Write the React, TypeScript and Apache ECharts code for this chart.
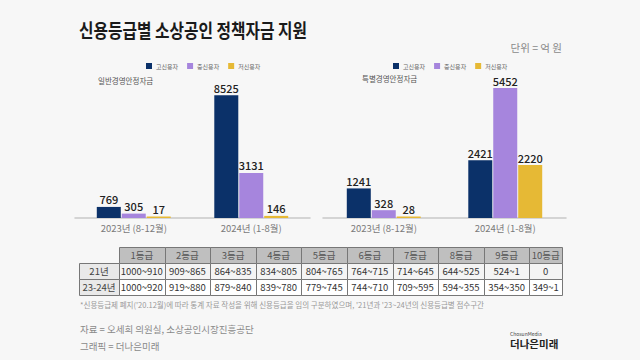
import React, { useEffect, useRef } from "react";
import * as echarts from "echarts";

const categories = ["2023년 (8-12월)", "2024년 (1-8월)"];
const seriesNames = ["고신용자", "중신용자", "저신용자"];
const generalHigh = [769, 8525];
const generalMid = [305, 3131];
const generalLow = [17, 146];
const specialHigh = [1241, 2421];
const specialMid = [328, 5452];
const specialLow = [28, 2220];

const gradeLabels = ["1등급", "2등급", "3등급", "4등급", "5등급", "6등급", "7등급", "8등급", "9등급", "10등급"];
const rowLabels = ["21년", "23-24년"];
const row21 = ["1000~910", "909~865", "864~835", "834~805", "804~765", "764~715", "714~645", "644~525", "524~1", "0"];
const row2324 = ["1000~920", "919~880", "879~840", "839~780", "779~745", "744~710", "709~595", "594~355", "354~350", "349~1"];

const COLORS = ["#0b3169", "#a685dd", "#e6b935"];
const FONT = "'Noto Sans CJK KR', 'Noto Sans', sans-serif";

export default function App() {
  const ref = useRef<HTMLDivElement>(null);
  useEffect(() => {
    document.body.style.margin = "0";
    const chart = echarts.init(ref.current!, null, { renderer: "svg" });

    const mkSeries = (name: string, data: number[], idx: number, ci: number) => ({
      type: "bar",
      name,
      data,
      xAxisIndex: idx,
      yAxisIndex: idx,
      barWidth: 24,
      barGap: "4%",
      barMinHeight: 1.5,
      itemStyle: { color: COLORS[ci] },
      label: {
        show: true,
        position: "top",
        distance: 2,
        fontSize: 11,
        fontWeight: 500,
        color: "#222",
        fontFamily: FONT,
      },
    });

    const colX: number[] = [79, 119];
    for (let i = 1; i <= 9; i++) colX.push(119 + i * 45.6);
    colX.push(562);
    const rowY = [247, 263, 279, 295];
    const cells: any[] = [];
    const cellText = (x0: number, x1: number, y0: number, y1: number, t: string, color: string) => ({
      type: "text",
      x: (x0 + x1) / 2,
      y: (y0 + y1) / 2,
      style: { text: t, fill: color, fontSize: 9.5, fontFamily: FONT, align: "center", verticalAlign: "middle" },
    });
    const cellRect = (x0: number, x1: number, y0: number, y1: number, fill: string) => ({
      type: "rect",
      shape: { x: Math.round(x0) + 0.5, y: y0 + 0.5, width: Math.round(x1) - Math.round(x0), height: y1 - y0 },
      style: { fill, stroke: "#777", lineWidth: 1 },
    });
    gradeLabels.forEach((g, i) => {
      cells.push(cellRect(colX[i + 1], colX[i + 2], rowY[0], rowY[1], "#bfbfbf"));
      cells.push(cellText(colX[i + 1], colX[i + 2], rowY[0], rowY[1], g, "#555"));
    });
    [row21, row2324].forEach((row, r) => {
      cells.push(cellRect(colX[0], colX[1], rowY[r + 1], rowY[r + 2], "#e9e9e9"));
      cells.push(cellText(colX[0], colX[1], rowY[r + 1], rowY[r + 2], rowLabels[r], "#444"));
      row.forEach((v, i) => {
        cells.push(cellRect(colX[i + 1], colX[i + 2], rowY[r + 1], rowY[r + 2], r === 0 ? "#f4f4f4" : "#ffffff"));
        cells.push(cellText(colX[i + 1], colX[i + 2], rowY[r + 1], rowY[r + 2], v, "#333"));
      });
    });

    const legendBase = {
      data: seriesNames,
      icon: "rect",
      itemWidth: 6,
      itemHeight: 6,
      itemGap: 9,
      top: 58,
      textStyle: { fontSize: 6, color: "#666", fontFamily: FONT, padding: [0, 0, 0, -1] },
      selectedMode: false,
    };

    const axisX = (gi: number) => ({
      type: "category",
      gridIndex: gi,
      data: categories,
      axisLine: { lineStyle: { color: "#c9c9c9", width: 1.5 } },
      axisTick: { show: false },
      axisLabel: { color: "#7a7a7a", fontSize: 9.5, margin: 5, fontFamily: FONT },
    });
    const axisY = (gi: number, max: number) => ({
      type: "value",
      gridIndex: gi,
      min: 0,
      max,
      show: false,
      splitLine: { show: false },
    });

    chart.setOption({
      animation: false,
      backgroundColor: "#f7f7f7",
      textStyle: { fontFamily: FONT },
      legend: [
        { ...legendBase, left: 141 },
        { ...legendBase, left: 388 },
      ],
      grid: [
        { left: 75, width: 235, top: 74, height: 144 },
        { left: 323, width: 243, top: 75, height: 143 },
      ],
      xAxis: [axisX(0), axisX(1)],
      yAxis: [axisY(0, 10000), axisY(1, 6000)],
      series: [
        mkSeries(seriesNames[0], generalHigh, 0, 0),
        mkSeries(seriesNames[1], generalMid, 0, 1),
        mkSeries(seriesNames[2], generalLow, 0, 2),
        mkSeries(seriesNames[0], specialHigh, 1, 0),
        mkSeries(seriesNames[1], specialMid, 1, 1),
        mkSeries(seriesNames[2], specialLow, 1, 2),
      ],
      graphic: [
        {
          type: "text",
          x: 79,
          y: 30,
          scaleX: 0.83,
          style: {
            text: "신용등급별 소상공인 정책자금 지원",
            fontSize: 19,
            fontWeight: "bold",
            fill: "#1a1a1a",
            fontFamily: FONT,
            verticalAlign: "middle",
          },
        },
        {
          type: "text",
          x: 562,
          y: 47,
          style: { text: "단위 = 억 원", fontSize: 10.5, fill: "#8a8a8a", fontFamily: FONT, align: "right", verticalAlign: "middle" },
        },
        {
          type: "text",
          x: 98,
          y: 80,
          style: { text: "일반경영안정자금", fontSize: 7.5, fill: "#555", fontFamily: FONT, verticalAlign: "middle" },
        },
        {
          type: "text",
          x: 362,
          y: 78,
          style: { text: "특별경영안정자금", fontSize: 7.5, fill: "#555", fontFamily: FONT, verticalAlign: "middle" },
        },
        ...cells,
        {
          type: "text",
          x: 80,
          y: 304,
          style: {
            text: "*신용등급제 폐지('20.12월)에 따라 통계 자료 작성을 위해 신용등급을 임의 구분하였으며, '21년과 '23~24년의 신용등급별 점수구간",
            fontSize: 7.5,
            fill: "#999",
            fontFamily: FONT,
            verticalAlign: "middle",
          },
        },
        {
          type: "text",
          x: 80,
          y: 329,
          style: { text: "자료 = 오세희 의원실, 소상공인시장진흥공단", fontSize: 9.5, fill: "#8a8a8a", fontFamily: FONT, verticalAlign: "middle" },
        },
        {
          type: "text",
          x: 80,
          y: 346,
          style: { text: "그래픽 = 더나은미래", fontSize: 9.5, fill: "#8a8a8a", fontFamily: FONT, verticalAlign: "middle" },
        },
        {
          type: "text",
          x: 510,
          y: 333,
          style: { text: "ChosunMedia", fontSize: 5, fill: "#444", fontFamily: FONT, verticalAlign: "middle" },
        },
        {
          type: "text",
          x: 510,
          y: 343,
          style: { text: "더나은미래", fontSize: 10.5, fontWeight: "bold", fill: "#222", fontFamily: FONT, verticalAlign: "middle" },
        },
      ],
    });
    return () => chart.dispose();
  }, []);
  return <div ref={ref} style={{ width: 640, height: 360 }} />;
}
